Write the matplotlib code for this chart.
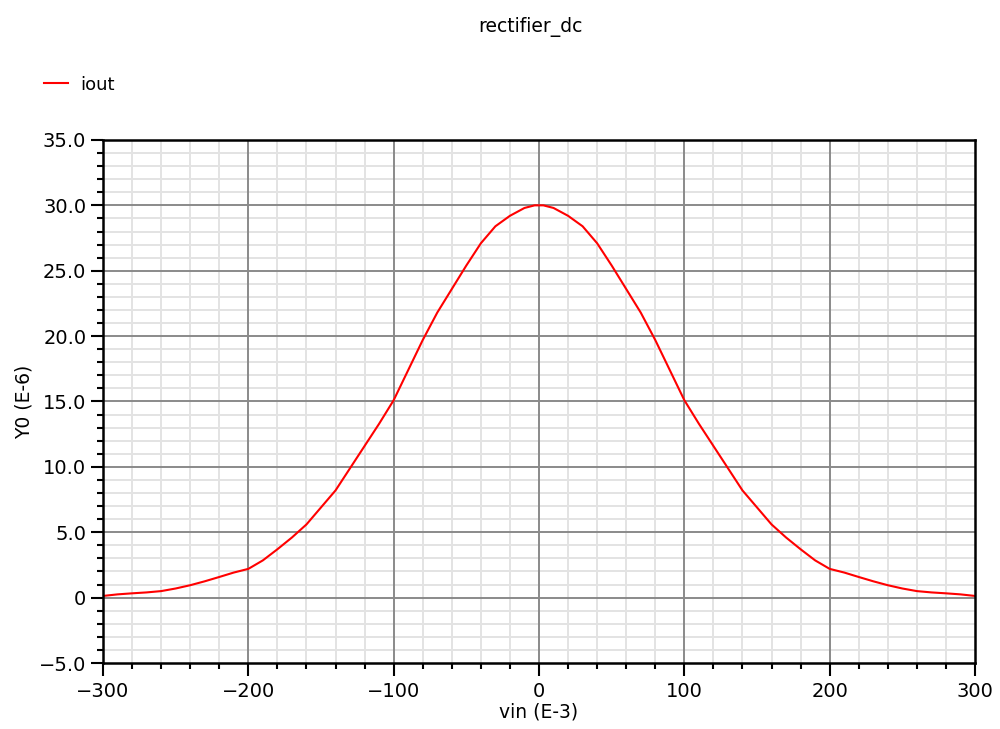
import matplotlib
matplotlib.use("Agg")
import matplotlib.pyplot as plt
from matplotlib.ticker import MultipleLocator, FuncFormatter

# 读图得到的数据 (vin in mV, iout in uA)
vin = [-300, -290, -280, -270, -260, -250, -240, -230, -220, -210, -200,
       -190, -180, -170, -160, -150, -140, -130, -120, -110, -100,
       -90, -80, -70, -60, -50, -40, -30, -20, -10, -3, 0,
       3, 10, 20, 30, 40, 50, 60, 70, 80, 90, 100,
       110, 120, 130, 140, 150, 160, 170, 180, 190, 200,
       210, 220, 230, 240, 250, 260, 270, 280, 290, 300]
iout = [0.13, 0.25, 0.33, 0.4, 0.5, 0.7, 0.95, 1.25, 1.58, 1.92, 2.2,
        2.85, 3.7, 4.6, 5.6, 6.9, 8.2, 9.9, 11.6, 13.3, 15.1,
        17.4, 19.7, 21.8, 23.6, 25.4, 27.1, 28.4, 29.2, 29.8, 30.0, 30.0,
        30.0, 29.8, 29.2, 28.4, 27.1, 25.4, 23.6, 21.8, 19.7, 17.4, 15.1,
        13.3, 11.6, 9.9, 8.2, 6.9, 5.6, 4.6, 3.7, 2.85, 2.2,
        1.92, 1.58, 1.25, 0.95, 0.7, 0.5, 0.4, 0.33, 0.25, 0.13]

title = "rectifier_dc"
series_name = "iout"
xlabel = "vin (E-3)"
ylabel = "Y0 (E-6)"

plt.rcParams['font.family'] = ['DejaVu Sans']

fig = plt.figure(figsize=(10, 7.29), dpi=100)
ax = fig.add_axes([0.103, 0.0905, 0.872, 0.7175])

ax.set_xlim(-300, 300)
ax.set_ylim(-5, 35)
ax.xaxis.set_major_locator(MultipleLocator(100))
ax.xaxis.set_minor_locator(MultipleLocator(20))
ax.yaxis.set_major_locator(MultipleLocator(5))
ax.yaxis.set_minor_locator(MultipleLocator(1))

# 刻度标签格式
def yfmt(v, pos):
    if abs(v) < 1e-9:
        return "0"
    return ("%.1f" % v).replace("-", "\u2212")

def xfmt(v, pos):
    return ("%d" % round(v)).replace("-", "\u2212")

ax.yaxis.set_major_formatter(FuncFormatter(yfmt))
ax.xaxis.set_major_formatter(FuncFormatter(xfmt))

# 网格: 细网格在下, 主网格在上
ax.set_axisbelow(True)
ax.grid(which='minor', color='#e3e3e3', lw=1.4)
for v in range(-200, 300, 100):
    ax.axvline(v, color='#8a8a8a', lw=1.4, zorder=1)
for v in range(0, 35, 5):
    ax.axhline(v, color='#8a8a8a', lw=1.4, zorder=1)

ax.plot(vin, iout, color='#ff0000', lw=1.5, label=series_name, zorder=3)

ax.tick_params(which='major', direction='out', length=9, width=1.5,
               labelsize=14, pad=3, colors='black')
ax.tick_params(which='minor', direction='out', length=4, width=1.5)
ax.tick_params(axis='x', which='major', pad=5)
for s in ax.spines.values():
    s.set_linewidth(1.8)
    s.set_color('black')
    s.set_zorder(4)

ax.set_xlabel(xlabel, fontsize=13.5, labelpad=1)
ax.set_ylabel(ylabel, fontsize=13.5, labelpad=4)

fig.text(0.53, 0.963, title, ha='center', va='center', fontsize=13.5)
fig.legend(loc='center left', bbox_to_anchor=(0.028, 0.884), frameon=False,
           handlelength=1.3, handletextpad=0.7, fontsize=13)

fig.savefig("out.png", dpi=100, facecolor='white')
